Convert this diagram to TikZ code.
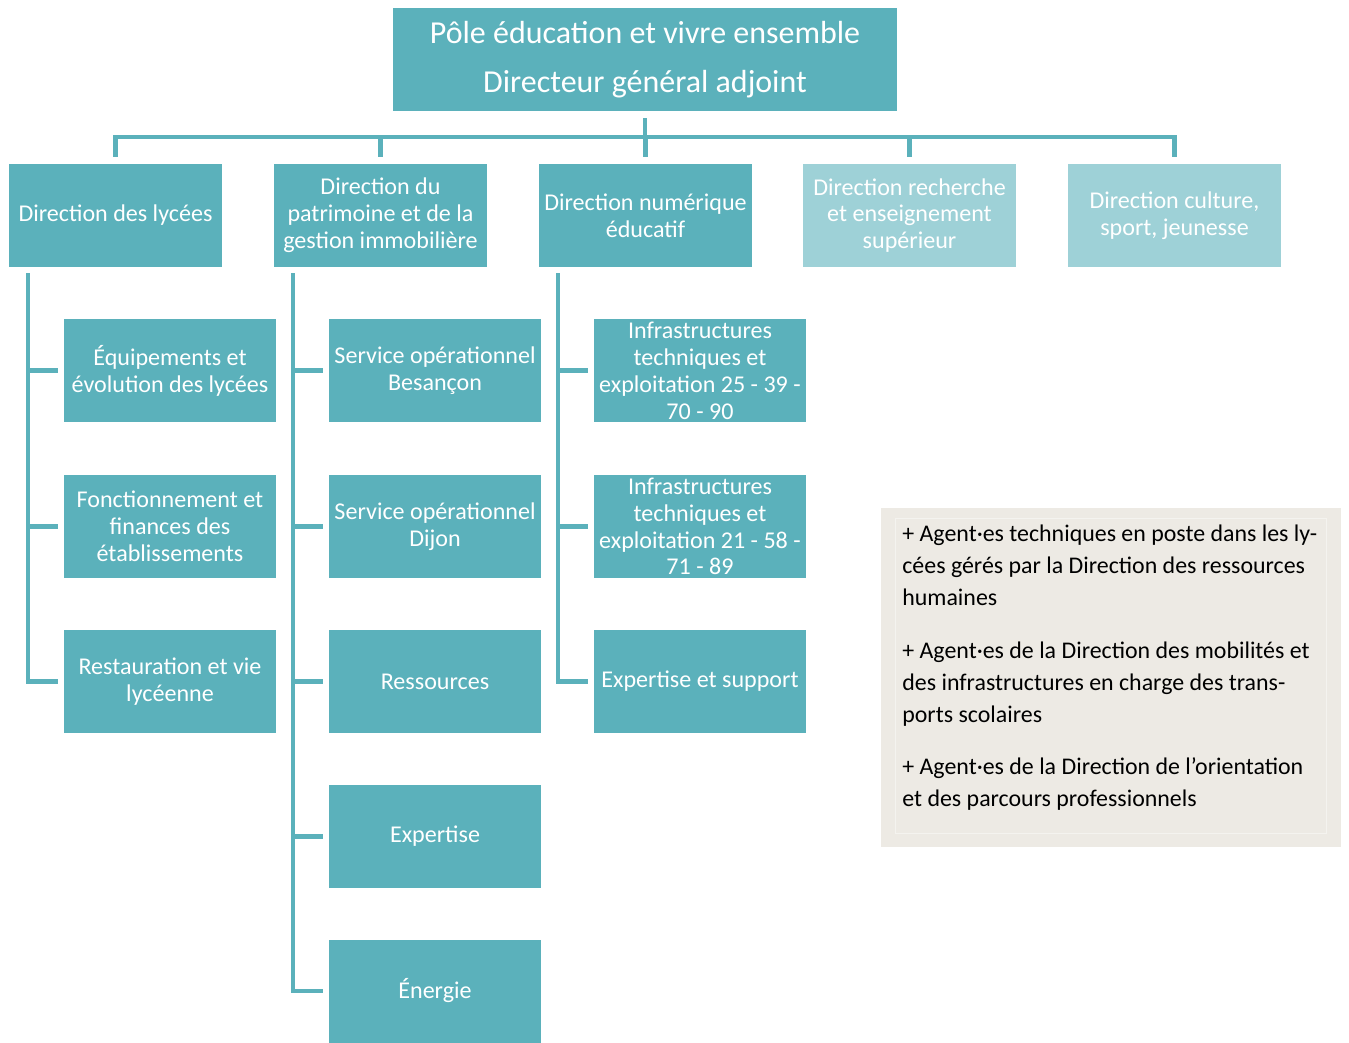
\documentclass[tikz,border=0pt]{standalone}
\usepackage{fontspec}
\setmainfont{Carlito}
\definecolor{pole}{RGB}{91,177,187}
\definecolor{polelight}{RGB}{158,209,215}
\definecolor{notebg}{RGB}{237,234,228}

\begin{document}
\begin{tikzpicture}[x=0.02cm,y=-0.02cm,
  box/.style={fill=pole,text=white,minimum width=4.26cm,minimum height=2.06cm,inner sep=0pt,align=center,font=\fontsize{13.7}{15.3}\selectfont},
  soft/.style={box,fill=polelight},
  link/.style={draw=pole,line width=2.8pt}]
%\draw[help lines,step=1cm](0,0)grid(1349,1042);
\useasboundingbox (0,0) rectangle (1349,1042);
\node[box,minimum width=10.08cm,font=\fontsize{18.2}{20}\selectfont] (top) at (645,59.5) {P\^ole \'education et vivre ensemble\\[8pt]Directeur g\'en\'eral adjoint};
\node[box] (lyc) at (115.5,215.5) {Direction des lyc\'ees};
\node[box] (pat) at (380.5,215.5) {Direction du\\patrimoine et de la\\gestion immobili\`ere};
\node[box] (num) at (645.5,215.5) {Direction num\'erique\\\'educatif};
\node[soft] (rech) at (909.5,215.5) {Direction recherche\\et enseignement\\sup\'erieur};
\node[soft] (cult) at (1174.5,215.5) {Direction culture,\\sport, jeunesse};
\node[box] (equ) at (170,370.5) {\'Equipements et\\\'evolution des lyc\'ees};
\node[box] (fon) at (170,526.5) {Fonctionnement et\\finances des\\\'etablissements};
\node[box] (rest) at (170,681.5) {Restauration et vie\\lyc\'eenne};
\node[box] (bes) at (435,370.5) {Service op\'erationnel\\Besan\c{c}on};
\node[box] (dij) at (435,526.5) {Service op\'erationnel\\Dijon};
\node[box] (ress) at (435,681.5) {Ressources};
\node[box] (expe) at (435,836.5) {Expertise};
\node[box] (ener) at (435,991) {\'Energie};
\node[box] (inf1) at (700,370.5) {Infrastructures\\techniques et\\exploitation 25 - 39 -\\70 - 90};
\node[box] (inf2) at (700,526.5) {Infrastructures\\techniques et\\exploitation 21 - 58 -\\71 - 89};
\node[box] (sup) at (700,681.5) {Expertise et support};
% top level
\coordinate (bar) at (645,137);
\draw[link,shorten <=0.14cm] (top.south) -- (bar);
\draw[link,shorten <=0.14cm,shorten >=0.14cm] (lyc.north) -- (lyc.north |- bar) -- (cult.north |- bar) -- (cult.north);
\foreach \d in {pat,num,rech} \draw[link,shorten >=0.14cm] (\d.north |- bar) -- (\d.north);
% spines
\coordinate (s1) at (28,273);
\coordinate (s2) at (293,273);
\coordinate (s3) at (558,273);
\foreach \c in {equ,fon,rest} \draw[link,shorten >=0.1cm] (s1) |- (\c.west);
\foreach \c in {bes,dij,ress,expe,ener} \draw[link,shorten >=0.1cm] (s2) |- (\c.west);
\foreach \c in {inf1,inf2,sup} \draw[link,shorten >=0.1cm] (s3) |- (\c.west);
% agents
\node[fill=notebg,minimum width=9.2cm,minimum height=6.78cm,inner sep=0pt] (agents) at (1111,677.5) {};
\draw[white!40!notebg] (895,518) rectangle (1326,833);
\node[anchor=north west,inner sep=0pt,align=left,font=\fontsize{13.6}{18.1}\selectfont] (agtxt) at (902,525) {+ Agent\textperiodcentered es techniques en poste dans les ly-\\c\'ees g\'er\'es par la Direction des ressources\\humaines\\[12pt]+ Agent\textperiodcentered es de la Direction des mobilit\'es et\\des infrastructures en charge des trans-\\ports scolaires\\[12pt]+ Agent\textperiodcentered es de la Direction de l'orientation\\et des parcours professionnels};
\end{tikzpicture}
\end{document}
